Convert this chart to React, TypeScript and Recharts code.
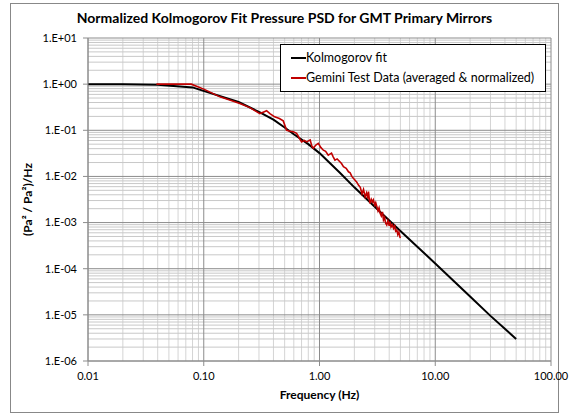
import React from "react";
import {
  LineChart,
  Line,
  XAxis,
  YAxis,
  ReferenceLine,
} from "recharts";

// Kolmogorov fit curve
const fitFreq = [0.01, 0.02, 0.04, 0.08, 0.2, 0.3, 0.4, 0.5, 0.6, 0.8, 1, 1.5, 2, 3, 5, 7, 10, 20, 30, 50];
const fitPsd = [1.0, 1.0, 0.97, 0.85, 0.41, 0.25, 0.17, 0.115, 0.082, 0.05, 0.032, 0.012, 0.0058, 0.0022, 0.00066, 0.0003, 0.00013, 0.000025, 0.0000095, 0.000003];

// Gemini test data (averaged & normalized)
const testFreq = [
  0.039, 0.05, 0.06, 0.078, 0.1, 0.138, 0.17, 0.205, 0.25, 0.305, 0.33, 0.349, 0.373, 0.41, 0.45,
  0.486, 0.52, 0.56, 0.594, 0.634, 0.7, 0.74, 0.775, 0.83, 0.86, 0.884, 0.93, 0.976, 1.03, 1.08,
  1.13, 1.19, 1.27, 1.31, 1.36, 1.42, 1.5, 1.55, 1.61, 1.7, 1.78, 1.84, 1.9, 2.03, 2.1, 2.17, 2.25,
  2.33, 2.4, 2.48, 2.55, 2.62, 2.65, 2.7, 2.73, 2.8, 2.87, 2.92, 3.0, 3.06, 3.13, 3.2, 3.27, 3.34,
  3.42, 3.5, 3.57, 3.65, 3.72, 3.81, 3.9, 4.0, 4.07, 4.15, 4.25, 4.36, 4.46, 4.55, 4.66, 4.75, 4.85,
  4.98,
];
const testPsd = [
  1.0, 1.0, 1.0, 1.0, 0.78, 0.53, 0.45, 0.38, 0.31, 0.23, 0.25, 0.265, 0.23, 0.196, 0.18,
  0.16, 0.1, 0.095, 0.093, 0.086, 0.056, 0.06, 0.056, 0.062, 0.045, 0.041, 0.048, 0.052, 0.042, 0.037,
  0.035, 0.029, 0.032, 0.027, 0.0226, 0.024, 0.0208, 0.019, 0.0162, 0.015, 0.0126, 0.012, 0.01, 0.0083, 0.0075, 0.0065, 0.0058,
  0.0042, 0.0052, 0.0036, 0.0044, 0.0033, 0.0047, 0.003, 0.0026, 0.0032, 0.0028, 0.0031, 0.0024, 0.0027, 0.0022, 0.0018, 0.0021, 0.0016,
  0.0014, 0.0017, 0.00114, 0.0013, 0.00098, 0.00089, 0.0011, 0.00085, 0.00105, 0.0008, 0.0009, 0.00075, 0.00085, 0.00065, 0.00069, 0.00055, 0.00062,
  0.00046,
];

const xTicks = [0.01, 0.1, 1, 10, 100];
const yTicks = [1e-6, 1e-5, 1e-4, 1e-3, 1e-2, 1e-1, 1, 10];

const fitData = fitFreq.map((f, i) => ({ f, psd: fitPsd[i] }));
const testData = testFreq.map((f, i) => ({ f, psd: testPsd[i] }));

// minor log gridlines (2..9 in each decade)
const minorX = xTicks.slice(0, -1).flatMap((d) => [2, 3, 4, 5, 6, 7, 8, 9].map((m) => d * m));
const minorY = yTicks.slice(0, -1).flatMap((d) => [2, 3, 4, 5, 6, 7, 8, 9].map((m) => d * m));

const FONT = "Lato, 'Open Sans', sans-serif";

const sci = (v: number) => {
  const e = Math.round(Math.log10(v));
  const sign = e < 0 ? "-" : "+";
  return `1.E${sign}${String(Math.abs(e)).padStart(2, "0")}`;
};

const LegendBox = () => (
  <div
    style={{
      position: "absolute",
      left: 280,
      top: 44,
      width: 266,
      boxSizing: "border-box",
      border: "1px solid #000",
      background: "#fff",
      padding: "3px 4px 3px 10px",
      fontFamily: FONT,
      fontSize: 12.5,
      color: "#000",
      lineHeight: "20px",
    }}
  >
    <div style={{ display: "flex", alignItems: "center" }}>
      <span style={{ width: 15, height: 2, background: "#000", display: "inline-block" }} />
      <span>Kolmogorov fit</span>
    </div>
    <div style={{ display: "flex", alignItems: "center" }}>
      <span style={{ width: 15, height: 2, background: "#c00000", display: "inline-block" }} />
      <span>Gemini Test Data (averaged &amp; normalized)</span>
    </div>
  </div>
);

export default function App() {
  const tick = { fill: "#000", fontSize: 11, fontFamily: FONT };
  return (
    <div style={{ position: "absolute", left: 0, top: 0, width: 569, height: 416, background: "#fff" }}>
      <div
        style={{
          position: "absolute",
          left: 10,
          top: 3,
          width: 547,
          height: 408,
          border: "1px solid #888",
        }}
      />
      <div
        style={{
          position: "absolute",
          left: 0,
          top: 9,
          width: 569,
          textAlign: "center",
          fontFamily: FONT,
          fontWeight: 700,
          fontSize: 14,
        }}
      >
        Normalized Kolmogorov Fit Pressure PSD for GMT Primary Mirrors
      </div>
      <div style={{ position: "absolute", left: 0, top: 0 }}>
        <LineChart width={569} height={416} margin={{ top: 38, right: 18, bottom: 25, left: 28 }}>
          {minorX.map((v) => (
            <ReferenceLine key={"mx" + v} x={v} stroke="#d4d4d4" strokeWidth={1} ifOverflow="hidden" />
          ))}
          {minorY.map((v) => (
            <ReferenceLine key={"my" + v} y={v} stroke="#c8c8c8" strokeWidth={1} ifOverflow="hidden" />
          ))}
          {xTicks.map((v) => (
            <ReferenceLine key={"Mx" + v} x={v} stroke="#8c8c8c" strokeWidth={1} />
          ))}
          {yTicks.map((v) => (
            <ReferenceLine key={"My" + v} y={v} stroke="#8c8c8c" strokeWidth={1} />
          ))}
          <XAxis
            type="number"
            dataKey="f"
            scale="log"
            domain={[0.01, 100]}
            ticks={xTicks}
            allowDataOverflow
            tickFormatter={(v: number) => v.toFixed(2)}
            tick={tick}
            tickSize={5}
            tickMargin={6}
            axisLine={{ stroke: "#8c8c8c" }}
            tickLine={{ stroke: "#8c8c8c" }}
            height={30}
            label={{
              value: "Frequency (Hz)",
              position: "insideBottom",
              offset: -8,
              style: { fontFamily: FONT, fontWeight: 700, fontSize: 12, fill: "#000" },
            }}
          />
          <YAxis
            type="number"
            dataKey="psd"
            scale="log"
            domain={[1e-6, 10]}
            ticks={yTicks}
            allowDataOverflow
            tickFormatter={sci}
            tick={tick}
            tickSize={5}
            tickMargin={6}
            width={60}
            axisLine={{ stroke: "#8c8c8c" }}
            tickLine={{ stroke: "#8c8c8c" }}
            label={{
              value: "(Pa² / Pa²)/Hz",
              angle: -90,
              position: "insideLeft",
              offset: 0,
              style: { fontFamily: FONT, fontWeight: 700, fontSize: 12, fill: "#000", textAnchor: "middle" },
            }}
          />
          <Line
            data={fitData}
            dataKey="psd"
            name="Kolmogorov fit"
            type="linear"
            stroke="#000"
            strokeWidth={2}
            dot={false}
            isAnimationActive={false}
          />
          <Line
            data={testData}
            dataKey="psd"
            name="Gemini Test Data (averaged & normalized)"
            type="linear"
            stroke="#c00000"
            strokeWidth={1.6}
            dot={false}
            isAnimationActive={false}
          />
        </LineChart>
      </div>
      <LegendBox />
    </div>
  );
}
